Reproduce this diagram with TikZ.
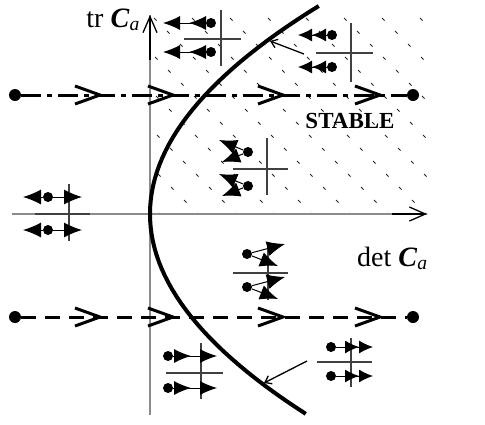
\documentclass[tikz,border=0pt]{standalone}
\usepackage{fontspec}
\setmainfont{Liberation Serif}
\usetikzlibrary{arrows.meta,positioning}

\begin{document}
\begin{tikzpicture}[x=1pt, y=-1pt,
  axis/.style={line width=1.3pt, black!45},
  axistip/.style={line width=1.3pt, -{Straight Barb[length=16pt,width=14pt]}},
  hatch/.style={line width=0.8pt, black!85},
  boundary/.style={line width=4pt},
  dashdotline/.style={line width=3pt, dash pattern=on 20pt off 6pt on 5pt off 6pt},
  dashline/.style={line width=3pt, dash pattern=on 15pt off 9pt},
  chev/.style={line width=3pt, miter limit=10},
  bigdot/.style={circle, fill, inner sep=0pt, minimum size=12pt},
  tdot/.style={circle, fill, inner sep=0pt, minimum size=10pt},
  cross/.style={line width=1.2pt, black!75},
  traj/.style={line width=1pt},
  onehead/.style={traj, -{Latex[length=18pt,width=15pt]}},
  twosep/.style={traj, -{Latex[length=17pt,width=14pt,sep=9pt]Latex[length=17pt,width=14pt]}},
  twoadj/.style={traj, -{Latex[length=14pt,width=13pt]Latex[length=14pt,width=13pt]}},
  pointer/.style={line width=1.3pt, -{Straight Barb[length=6pt,width=9pt]}},
  lbl/.style={font=\fontsize{28}{32}\selectfont, inner sep=0pt}
]
  \useasboundingbox (0,0) rectangle (485,424);

  % ── stable region ──
  \begin{scope}
    \clip (150,15) rectangle (430,214);
    \foreach \j in {0,...,15}
      \foreach \i in {-6,...,8}
        \draw[hatch] ({154+38*\i+13*\j},{18+13*\j}) -- ++(2.5,2.5);
  \end{scope}

  % ── axes ──
  \draw[axis] (150,415) -- (150,15);
  \draw[axistip] (150,60) -- (150,15);
  \draw[axis] (12,214) -- (427,214);
  \draw[axistip] (392,214) -- (427,214);

  \node[lbl, anchor=base east] (trlab) at (140,27)
    {tr \textbf{\textit{C}}\textsubscript{\textit{a}}};
  \node[lbl, anchor=base west] (detlab) at (357,266)
    {det \textbf{\textit{C}}\textsubscript{\textit{a}}};
  \node[font=\fontsize{23}{27}\selectfont\bfseries, inner sep=0pt] (stable) at (350,121) {STABLE};

  % ── parabola  det = tr^2/4 ──
  \draw[boundary] plot[variable=\s, domain=-1.04:1, samples=60]
    ({150+156*\s*\s},{214+200*\s});

  % ── paths through the plane ──
  \node[bigdot] (la) at (15,95) {};
  \node[bigdot] (ra) at (413,95) {};
  \draw[dashdotline] (la) -- (ra);
  \node[bigdot] (lb) at (15,317) {};
  \node[bigdot] (rb) at (413,317) {};
  \draw[dashline] (lb) -- (rb);
  \foreach \x in {100,173,283,380} {
    \draw[chev] (\x-25,86) -- (\x,95) -- (\x-25,104);
    \draw[chev] (\x-25,308) -- (\x,317) -- (\x-25,326);
  }

  % ── small portraits ──
  % top left
  \draw[cross] (221,10) -- (221,66);
  \draw[cross] (184,39) -- (241,39);
  \foreach \r/\y in {a/23, b/52} {
    \node[tdot] (p1\r) at (211,\y) {};
    \coordinate (q1\r) at (163,\y);
    \draw[twosep] (p1\r) -- (q1\r);
  }
  % top right
  \draw[cross] (351,23) -- (351,82);
  \draw[cross] (316,53) -- (373,53);
  \foreach \r/\y in {a/35, b/67} {
    \node[tdot] (p2\r) at (332,\y) {};
    \coordinate (q2\r) at (298,\y);
    \draw[twoadj] (p2\r) -- (q2\r);
  }
  \coordinate (c2) at (270,41);
  \draw[pointer] (304,54) -- (c2);
  % middle, inside
  \draw[cross] (267,138) -- (267,195);
  \draw[cross] (233,169) -- (288,169);
  \foreach \r/\y in {a/152, b/186} {
    \node[tdot] (p3\r) at (248,\y) {};
    \coordinate (u3\r) at (219,\y-12);
    \coordinate (v3\r) at (222,\y+10);
    \draw[onehead] (p3\r) -- (u3\r);
    \draw[onehead] (p3\r) -- (v3\r);
  }
  % on the det axis
  \draw[cross] (69,184) -- (69,241);
  \draw[cross] (35,214) -- (90,214);
  \foreach \r/\y in {a/197, b/230} {
    \node[tdot] (p4\r) at (48,\y) {};
    \coordinate (u4\r) at (23,\y);
    \coordinate (v4\r) at (82,\y);
    \draw[onehead] (p4\r) -- (u4\r);
    \draw[onehead] (p4\r) -- (v4\r);
  }
  % middle, below
  \draw[cross] (268,242) -- (268,300);
  \draw[cross] (233,273) -- (288,273);
  \foreach \r/\y in {a/254, b/287} {
    \node[tdot] (p5\r) at (247,\y) {};
    \coordinate (u5\r) at (285,\y-10);
    \coordinate (v5\r) at (278,\y+12);
    \draw[onehead] (p5\r) -- (u5\r);
    \draw[onehead] (p5\r) -- (v5\r);
  }
  % bottom left
  \draw[cross] (201,343) -- (201,399);
  \draw[cross] (166,373) -- (223,373);
  \foreach \r/\y in {a/356, b/388} {
    \node[tdot] (p6\r) at (168,\y) {};
    \coordinate (q6\r) at (217,\y);
    \draw[twosep] (p6\r) -- (q6\r);
  }
  % bottom right
  \draw[cross] (351,338) -- (351,387);
  \draw[cross] (317,362) -- (372,362);
  \foreach \r/\y in {a/347, b/376} {
    \node[tdot] (p7\r) at (331,\y) {};
    \coordinate (q7\r) at (373,\y);
    \draw[twoadj] (p7\r) -- (q7\r);
  }
  \coordinate (c7) at (264,383);
  \draw[pointer] (307,361) -- (c7);
\end{tikzpicture}
\end{document}
